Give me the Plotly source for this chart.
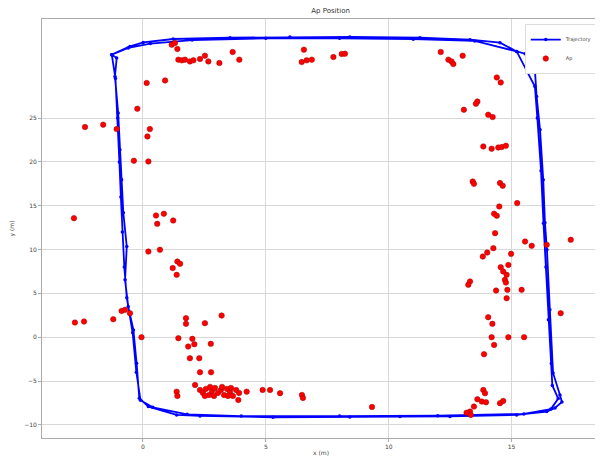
import plotly.graph_objects as go

# Trajectory (two laps)
traj_x = [-1.27, -0.53, 0.01, 1.23, 3.54, 5.98, 8.42, 11.27, 13.31, 14.53, 15.21, 15.55, 15.83, 15.95,
          16.02, 16.16, 16.29, 16.36, 16.44, 16.56, 16.69, 16.97, 17.05, 16.77, 16.43, 15.21, 12.49,
          10.46, 8.42, 5.29, 2.32, 1.37, 0.22, -0.15, -0.26, -0.39, -0.60, -0.73, -0.66, -0.80, -0.87,
          -0.94, -1.01, -1.14, -1.07, -1.27,
          -0.6, 0.3, 2.0, 5.0, 8.0, 11.0, 13.5, 15.21, 15.95, 16.05, 16.2, 16.3, 16.4, 16.5, 16.62,
          16.66, 16.9, 16.6, 15.5, 12.0, 8.0, 4.0, 1.8, 0.4, -0.1, -0.27, -0.42, -0.66, -0.76, -0.84,
          -0.9, -0.96, -1.03, -1.12, -1.27]
traj_y = [32.23, 33.17, 33.63, 34.02, 34.17, 34.25, 34.25, 34.17, 33.94, 33.6, 32.6, 32.34, 31.66, 30.51,
          27.47, 23.66, 17.96, 13.05, 9.97, 3.12, -4.08, -6.59, -7.39, -8.07, -8.49, -8.87, -9.04,
          -9.06, -9.10, -9.13, -8.98, -8.87, -7.92, -6.96, -2.97, 0.83, 3.49, 6.54, 10.34, 14.19, 17.96,
          21.38, 25.57, 29.75, 31.85, 32.23,
          33.0, 33.5, 33.9, 34.1, 34.1, 34.0, 33.8, 32.6, 28.6, 25.0, 19.0, 13.0, 8.0, 2.0, -3.0,
          -5.5, -7.0, -8.2, -8.75, -8.95, -9.0, -9.0, -8.8, -8.0, -7.2, -4.0, 0.5, 4.5, 8.0, 12.0,
          16.0, 20.0, 25.0, 29.5, 32.23]

# AP positions
ap_x = [1.17, 1.30, 1.40, 1.44, 1.58, 1.71, 1.91, 2.05, 2.32, 2.52, 2.66, 3.11, 3.65, 3.92,
        0.15, 0.90, -0.23, -2.36, -1.62, -1.07, 0.28, 0.18, -0.37, 0.22,
        -2.81, 0.53, 0.58, 0.85, 1.23, 0.22, 0.69, 1.40, 1.51, 1.21, 1.37,
        -2.77, -2.40, -1.21, -0.87, -0.73, -0.53, -0.06,
        1.75, 1.75, 2.52, 3.20, 1.44, 2.01, 2.09, 1.84, 2.76, 1.91, 2.29, 2.32, 2.77, 2.12, 1.37, 1.40,
        2.32, 2.44, 2.56, 2.69, 2.81, 2.93, 3.05, 3.17, 3.30, 3.42, 3.54, 3.66, 3.79, 3.91,
        2.52, 2.89, 3.22, 3.46, 2.73, 3.58,
        3.88, 4.22, 4.87, 5.17, 5.58, 6.47, 6.51, 9.32,
        12.12, 12.43, 12.56, 12.63, 13.01, 14.40, 14.56, 13.61, 13.55, 13.06, 14.05, 14.23,
        13.85, 14.19, 14.46, 14.60, 14.77, 13.42, 13.47, 14.53, 14.64, 15.23, 14.50, 14.29, 14.40,
        14.33, 15.55, 15.82, 16.43, 17.41, 14.26, 14.01, 13.83, 14.98, 14.87, 14.56, 14.66, 14.80,
        14.73, 14.77, 13.31, 13.24, 14.37, 14.83, 15.41, 14.80, 17.0, 14.05, 14.22, 14.19, 14.87,
        15.51, 14.29, 13.88, 13.85, 13.92, 13.61, 13.79, 13.96, 14.53, 14.66, 13.47, 13.31, 13.17, 13.34,
        6.55, 6.46, 6.66, 6.87, 7.75, 8.09, 8.22]
ap_y = [33.37, 33.56, 32.88, 31.66, 31.58, 31.66, 31.46, 31.58, 31.74, 32.11, 31.46, 31.28, 32.53, 31.66,
        29.0, 29.29, 26.06, 23.97, 24.24, 23.74, 23.74, 22.9, 20.13, 20.05,
        13.58, 13.88, 12.93, 14.08, 13.31, 9.77, 9.97, 8.63, 8.37, 7.88, 7.11,
        1.67, 1.78, 2.05, 3.0, 3.12, 2.74, 0.0,
        2.17, 1.52, 1.6, 2.47, -0.11, -0.19, -0.8, -1.07, -0.76, -2.4, -2.4, -4.0, -4.0, -5.45, -6.21, -6.7,
        -6.02, -6.36, -5.90, -6.59, -6.13, -5.79, -6.36, -6.02, -6.59, -5.90, -6.25, -6.70, -6.02, -6.36,
        -6.70, -6.70, -5.67, -6.70, -5.67, -5.79,
        -7.16, -6.21, -6.02, -6.02, -6.39, -6.59, -6.93, -7.96,
        32.53, 31.66, 31.46, 31.16, 32.11, 29.63, 29.06, 26.89, 26.63, 25.95, 25.38, 25.11,
        21.76, 21.5, 21.64, 21.69, 21.84, 17.76, 17.5, 17.58, 17.27, 15.30, 14.91, 14.08, 13.85,
        11.87, 10.91, 10.42, 10.54, 11.11, 10.16, 9.66, 9.20, 9.51, 8.25, 7.99, 7.49, 7.11,
        6.54, 6.23, 6.35, 5.97, 5.32, 5.40, 5.40, 4.45, 2.74, 2.28, 1.52, 0.0, 0.0,
        0.0, -0.88, -1.94, -6.02, -6.39, -7.08, -7.35, -7.42, -7.53, -7.27, -7.92, -8.49, -8.61, -8.87,
        32.8, 31.39, 31.58, 31.66, 31.96, 32.31, 32.34]

y_ticks = [-10, -5, 0, 5, 10, 15, 20, 25]
x_ticks = [0, 5, 10, 15]

font = "DejaVu Sans"
fig = go.Figure()
fig.add_trace(go.Scatter(x=traj_x, y=traj_y, mode="lines+markers", name="Trajectory",
                         line=dict(color="blue", width=1.8), marker=dict(color="blue", size=3.5)))
fig.add_trace(go.Scatter(x=ap_x, y=ap_y, mode="markers", name="Ap",
                         marker=dict(color="red", size=5.5, line=dict(color="#a00000", width=0.5))))

# page has an 8px body margin, so margins are offset to place the plot area as in the reference
fig.update_layout(
    width=603, height=459,
    margin=dict(l=34, r=11, t=11, b=29, autoexpand=False),
    paper_bgcolor="white", plot_bgcolor="white",
    font=dict(family=font, size=6, color="#444"),
    title=dict(text="Ap Position", x=0.535, xanchor="center", y=0.999, yanchor="top",
               font=dict(size=7, color="#333"), automargin=False),
    legend=dict(x=0.996, xanchor="right", y=0.988, yanchor="top", bgcolor="white",
                bordercolor="#ddd", borderwidth=1, font=dict(size=5), itemwidth=30,
                tracegroupgap=0, entrywidth=45),
    showlegend=True,
)
fig.update_xaxes(range=[-4.11, 18.6], tickvals=x_ticks, showgrid=True, gridcolor="#d8d8d8",
                 zeroline=False, showline=True, linecolor="#aaa", mirror=True,
                 ticks="outside", ticklen=3, tickcolor="#aaa", automargin=False,
                 title=dict(text="x (m)", standoff=1, font=dict(size=6)))
fig.update_yaxes(range=[-11.5, 36.3], tickvals=y_ticks, showgrid=True, gridcolor="#d8d8d8",
                 zeroline=False, showline=True, linecolor="#aaa", mirror=True,
                 ticks="outside", ticklen=3, tickcolor="#aaa", automargin=False,
                 title=dict(text="y (m)", standoff=10, font=dict(size=6)))

fig.write_html("out.html")
